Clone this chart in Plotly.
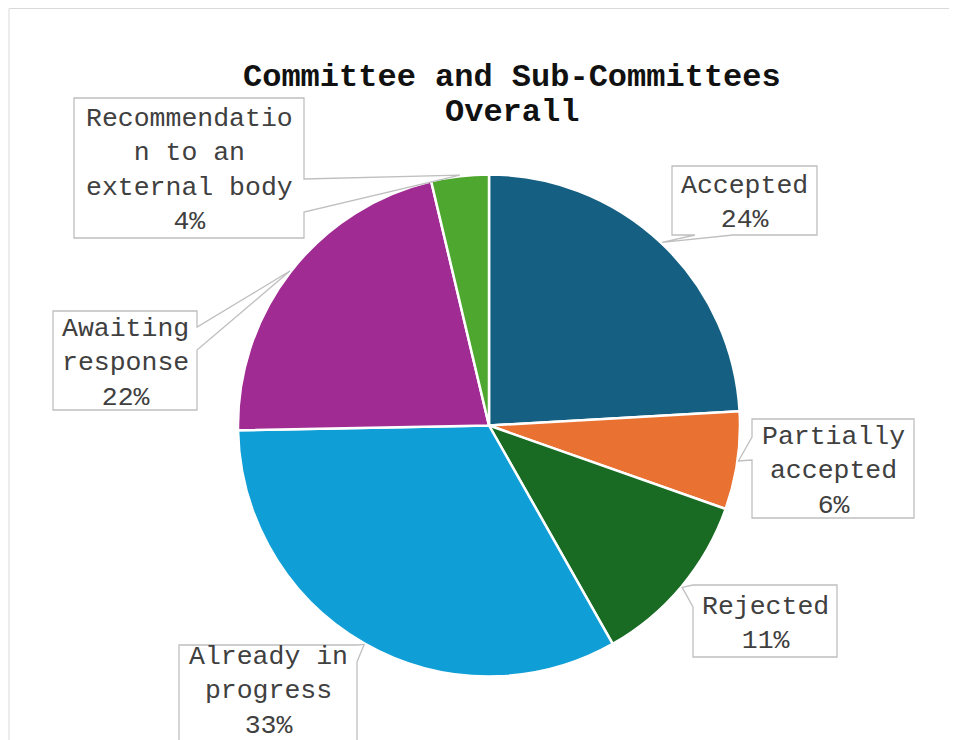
import math
import plotly.graph_objects as go

# ---------------- data ----------------
categories = ["Accepted", "Partially accepted", "Rejected", "Already in progress",
              "Awaiting response", "Recommendation to an external body"]
label_lines = [["Accepted"], ["Partially", "accepted"], ["Rejected"],
               ["Already in", "progress"], ["Awaiting", "response"],
               ["Recommendatio", "n to an", "external body"]]
values = [24.1, 6.3, 11.4, 32.9, 21.6, 3.7]
colors = ["#156082", "#E97132", "#196B24", "#0F9ED5", "#A02B93", "#4EA72E"]
title_lines = ["Committee and Sub-Committees", "Overall"]

# ---------------- layout constants (screen pixels) ----------------
W, H = 957, 740
OFF = 8  # page body margin
CX, CY, R = 489, 425.5, 251
FONT = "Liberation Mono, Courier New, monospace"

# callout boxes: (x0, y0, x1, y1, side, a, b, text_dy)
boxes = [
    (672, 166, 817, 235, "bottom", 695, 733, 2.5),
    (752, 419, 914, 518, "left", 437, 460, 2.5),
    (693, 585, 837, 657, "left", 585, 607, 2.5),
    (179, 645, 357, 747, "right", 645, 662, -5),
    (53, 311, 197, 410, "right", 327, 350, 2.5),
    (74, 98, 304, 238, "right", 179, 212, 2.5),
]


def fx(x):
    return (x - OFF) / W


def fy(y):
    return 1 - (y - OFF) / H


fig = go.Figure()
fig.add_trace(go.Pie(
    labels=categories, values=values, sort=False, direction="clockwise",
    rotation=0, marker=dict(colors=colors, line=dict(color="white", width=2.5)),
    textinfo="none", hoverinfo="label+percent", showlegend=False,
    domain=dict(x=[fx(CX - R), fx(CX + R)], y=[fy(CY + R), fy(CY - R)]),
))

total = sum(values)
shapes = []
annotations = []

# outer chart border
shapes.append(dict(type="rect", xref="paper", yref="paper",
                   x0=fx(9), x1=fx(W + 40), y0=fy(H + 40), y1=fy(8.5),
                   line=dict(color="#d9d9d9", width=1), fillcolor="rgba(0,0,0,0)",
                   layer="below"))

cum = 0.0
for i, v in enumerate(values):
    mid = (cum + v / 2) / total * 2 * math.pi
    cum += v
    tx = CX + (R + 1) * math.sin(mid)
    ty = CY - (R + 1) * math.cos(mid)
    x0, y0, x1, y1, side, a, b, dy = boxes[i]
    pts = [(x0, y0)]
    if side == "top":
        pts += [(a, y0), (tx, ty), (b, y0)]
    pts.append((x1, y0))
    if side == "right":
        pts += [(x1, a), (tx, ty), (x1, b)]
    pts.append((x1, y1))
    if side == "bottom":
        pts += [(b, y1), (tx, ty), (a, y1)]
    pts.append((x0, y1))
    if side == "left":
        pts += [(x0, b), (tx, ty), (x0, a)]
    path = "M " + " L ".join(f"{fx(px):.5f},{fy(py):.5f}" for px, py in pts) + " Z"
    shapes.append(dict(type="path", xref="paper", yref="paper", path=path,
                       fillcolor="white", line=dict(color="#bfbfbf", width=1.3),
                       layer="above"))
    pct = f"{round(v / total * 100)}%"
    text = "<br>".join(label_lines[i] + [pct])
    annotations.append(dict(
        x=fx((x0 + x1) / 2), y=fy((y0 + y1) / 2 + dy), xref="paper", yref="paper",
        text=text, showarrow=False, xanchor="center", yanchor="middle",
        align="center", font=dict(family=FONT, size=26.5, color="#404040"),
    ))

# title (two lines, tight spacing)
for line, ypx in zip(title_lines, [77, 112]):
    annotations.append(dict(
        x=fx(512), y=fy(ypx), xref="paper", yref="paper",
        text=f"<b>{line}</b>", showarrow=False, xanchor="center", yanchor="middle",
        font=dict(family=FONT, size=32, color="#111111"),
    ))

fig.update_layout(
    width=W, height=H, margin=dict(l=0, r=0, t=0, b=0),
    paper_bgcolor="white", plot_bgcolor="white",
    shapes=shapes, annotations=annotations, showlegend=False,
)

fig.write_html("out.html")
